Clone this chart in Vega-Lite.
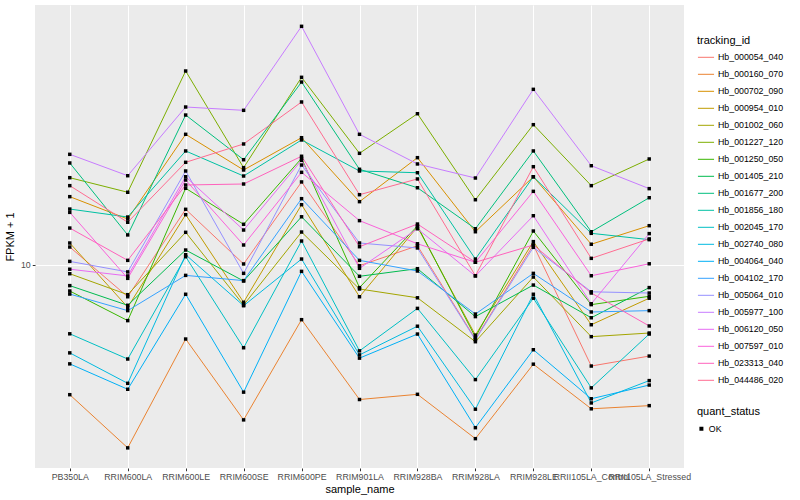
{
"$schema": "https://vega.github.io/schema/vega-lite/v6.json",
"width": 649,
"height": 463,
"autosize": {"type": "none"},
"padding": {"left": 35, "top": 5, "right": 116, "bottom": 32},
"background": "white",
"config": {
  "font": "Liberation Sans",
  "view": {"fill": "#EBEBEB", "stroke": null},
  "axis": {"labelFont": "Liberation Sans", "labelColor": "#4D4D4D", "labelFontSize": 8.8, "tickColor": "#333333", "tickSize": 2.75, "domain": false, "gridColor": "white", "gridWidth": 1, "titleFont": "Liberation Sans", "titleFontSize": 11, "titleFontWeight": "normal", "titleColor": "black"},
  "legend": {"labelFont": "Liberation Sans", "titleFont": "Liberation Sans", "labelFontSize": 8.8, "titleFontSize": 11, "titleFontWeight": "normal", "titleColor": "black", "labelColor": "black", "padding": 0, "rowPadding": 0, "labelOffset": 3}
},
"datasets": {
"fpkm": [
{"tracking_id":"Hb_000054_040","sample_name":"PB350LA","fpkm":11.09,"quant_status":"OK"},
{"tracking_id":"Hb_000054_040","sample_name":"RRIM600LA","fpkm":8.33,"quant_status":"OK"},
{"tracking_id":"Hb_000054_040","sample_name":"RRIM600LE","fpkm":13.78,"quant_status":"OK"},
{"tracking_id":"Hb_000054_040","sample_name":"RRIM600SE","fpkm":10.06,"quant_status":"OK"},
{"tracking_id":"Hb_000054_040","sample_name":"RRIM600PE","fpkm":16.13,"quant_status":"OK"},
{"tracking_id":"Hb_000054_040","sample_name":"RRIM901LA","fpkm":9.96,"quant_status":"OK"},
{"tracking_id":"Hb_000054_040","sample_name":"RRIM928BA","fpkm":11.17,"quant_status":"OK"},
{"tracking_id":"Hb_000054_040","sample_name":"RRIM928LA","fpkm":6.53,"quant_status":"OK"},
{"tracking_id":"Hb_000054_040","sample_name":"RRIM928LE","fpkm":11.22,"quant_status":"OK"},
{"tracking_id":"Hb_000054_040","sample_name":"RRII105LA_Control","fpkm":5.59,"quant_status":"OK"},
{"tracking_id":"Hb_000054_040","sample_name":"RRII105LA_Stressed","fpkm":5.92,"quant_status":"OK"},
{"tracking_id":"Hb_000160_070","sample_name":"PB350LA","fpkm":4.74,"quant_status":"OK"},
{"tracking_id":"Hb_000160_070","sample_name":"RRIM600LA","fpkm":3.49,"quant_status":"OK"},
{"tracking_id":"Hb_000160_070","sample_name":"RRIM600LE","fpkm":6.53,"quant_status":"OK"},
{"tracking_id":"Hb_000160_070","sample_name":"RRIM600SE","fpkm":4.10,"quant_status":"OK"},
{"tracking_id":"Hb_000160_070","sample_name":"RRIM600PE","fpkm":7.30,"quant_status":"OK"},
{"tracking_id":"Hb_000160_070","sample_name":"RRIM901LA","fpkm":4.61,"quant_status":"OK"},
{"tracking_id":"Hb_000160_070","sample_name":"RRIM928BA","fpkm":4.75,"quant_status":"OK"},
{"tracking_id":"Hb_000160_070","sample_name":"RRIM928LA","fpkm":3.68,"quant_status":"OK"},
{"tracking_id":"Hb_000160_070","sample_name":"RRIM928LE","fpkm":5.65,"quant_status":"OK"},
{"tracking_id":"Hb_000160_070","sample_name":"RRII105LA_Control","fpkm":4.37,"quant_status":"OK"},
{"tracking_id":"Hb_000160_070","sample_name":"RRII105LA_Stressed","fpkm":4.45,"quant_status":"OK"},
{"tracking_id":"Hb_000702_090","sample_name":"PB350LA","fpkm":14.82,"quant_status":"OK"},
{"tracking_id":"Hb_000702_090","sample_name":"RRIM600LA","fpkm":13.03,"quant_status":"OK"},
{"tracking_id":"Hb_000702_090","sample_name":"RRIM600LE","fpkm":21.22,"quant_status":"OK"},
{"tracking_id":"Hb_000702_090","sample_name":"RRIM600SE","fpkm":17.28,"quant_status":"OK"},
{"tracking_id":"Hb_000702_090","sample_name":"RRIM600PE","fpkm":20.81,"quant_status":"OK"},
{"tracking_id":"Hb_000702_090","sample_name":"RRIM901LA","fpkm":14.40,"quant_status":"OK"},
{"tracking_id":"Hb_000702_090","sample_name":"RRIM928BA","fpkm":18.55,"quant_status":"OK"},
{"tracking_id":"Hb_000702_090","sample_name":"RRIM928LA","fpkm":12.11,"quant_status":"OK"},
{"tracking_id":"Hb_000702_090","sample_name":"RRIM928LE","fpkm":16.62,"quant_status":"OK"},
{"tracking_id":"Hb_000702_090","sample_name":"RRII105LA_Control","fpkm":11.27,"quant_status":"OK"},
{"tracking_id":"Hb_000702_090","sample_name":"RRII105LA_Stressed","fpkm":12.54,"quant_status":"OK"},
{"tracking_id":"Hb_000954_010","sample_name":"PB350LA","fpkm":11.35,"quant_status":"OK"},
{"tracking_id":"Hb_000954_010","sample_name":"RRIM600LA","fpkm":7.84,"quant_status":"OK"},
{"tracking_id":"Hb_000954_010","sample_name":"RRIM600LE","fpkm":13.36,"quant_status":"OK"},
{"tracking_id":"Hb_000954_010","sample_name":"RRIM600SE","fpkm":8.07,"quant_status":"OK"},
{"tracking_id":"Hb_000954_010","sample_name":"RRIM600PE","fpkm":14.15,"quant_status":"OK"},
{"tracking_id":"Hb_000954_010","sample_name":"RRIM901LA","fpkm":8.33,"quant_status":"OK"},
{"tracking_id":"Hb_000954_010","sample_name":"RRIM928BA","fpkm":12.45,"quant_status":"OK"},
{"tracking_id":"Hb_000954_010","sample_name":"RRIM928LA","fpkm":6.68,"quant_status":"OK"},
{"tracking_id":"Hb_000954_010","sample_name":"RRIM928LE","fpkm":11.44,"quant_status":"OK"},
{"tracking_id":"Hb_000954_010","sample_name":"RRII105LA_Control","fpkm":7.09,"quant_status":"OK"},
{"tracking_id":"Hb_000954_010","sample_name":"RRII105LA_Stressed","fpkm":8.26,"quant_status":"OK"},
{"tracking_id":"Hb_001002_060","sample_name":"PB350LA","fpkm":9.51,"quant_status":"OK"},
{"tracking_id":"Hb_001002_060","sample_name":"RRIM600LA","fpkm":8.43,"quant_status":"OK"},
{"tracking_id":"Hb_001002_060","sample_name":"RRIM600LE","fpkm":12.07,"quant_status":"OK"},
{"tracking_id":"Hb_001002_060","sample_name":"RRIM600SE","fpkm":7.94,"quant_status":"OK"},
{"tracking_id":"Hb_001002_060","sample_name":"RRIM600PE","fpkm":12.09,"quant_status":"OK"},
{"tracking_id":"Hb_001002_060","sample_name":"RRIM901LA","fpkm":8.71,"quant_status":"OK"},
{"tracking_id":"Hb_001002_060","sample_name":"RRIM928BA","fpkm":8.28,"quant_status":"OK"},
{"tracking_id":"Hb_001002_060","sample_name":"RRIM928LA","fpkm":6.43,"quant_status":"OK"},
{"tracking_id":"Hb_001002_060","sample_name":"RRIM928LE","fpkm":9.33,"quant_status":"OK"},
{"tracking_id":"Hb_001002_060","sample_name":"RRII105LA_Control","fpkm":6.62,"quant_status":"OK"},
{"tracking_id":"Hb_001002_060","sample_name":"RRII105LA_Stressed","fpkm":6.76,"quant_status":"OK"},
{"tracking_id":"Hb_001227_120","sample_name":"PB350LA","fpkm":16.53,"quant_status":"OK"},
{"tracking_id":"Hb_001227_120","sample_name":"RRIM600LA","fpkm":15.20,"quant_status":"OK"},
{"tracking_id":"Hb_001227_120","sample_name":"RRIM600LE","fpkm":30.55,"quant_status":"OK"},
{"tracking_id":"Hb_001227_120","sample_name":"RRIM600SE","fpkm":17.51,"quant_status":"OK"},
{"tracking_id":"Hb_001227_120","sample_name":"RRIM600PE","fpkm":29.46,"quant_status":"OK"},
{"tracking_id":"Hb_001227_120","sample_name":"RRIM901LA","fpkm":19.02,"quant_status":"OK"},
{"tracking_id":"Hb_001227_120","sample_name":"RRIM928BA","fpkm":23.89,"quant_status":"OK"},
{"tracking_id":"Hb_001227_120","sample_name":"RRIM928LA","fpkm":14.56,"quant_status":"OK"},
{"tracking_id":"Hb_001227_120","sample_name":"RRIM928LE","fpkm":22.43,"quant_status":"OK"},
{"tracking_id":"Hb_001227_120","sample_name":"RRII105LA_Control","fpkm":15.79,"quant_status":"OK"},
{"tracking_id":"Hb_001227_120","sample_name":"RRII105LA_Stressed","fpkm":18.41,"quant_status":"OK"},
{"tracking_id":"Hb_001250_050","sample_name":"PB350LA","fpkm":8.61,"quant_status":"OK"},
{"tracking_id":"Hb_001250_050","sample_name":"RRIM600LA","fpkm":7.26,"quant_status":"OK"},
{"tracking_id":"Hb_001250_050","sample_name":"RRIM600LE","fpkm":15.55,"quant_status":"OK"},
{"tracking_id":"Hb_001250_050","sample_name":"RRIM600SE","fpkm":12.64,"quant_status":"OK"},
{"tracking_id":"Hb_001250_050","sample_name":"RRIM600PE","fpkm":18.48,"quant_status":"OK"},
{"tracking_id":"Hb_001250_050","sample_name":"RRIM901LA","fpkm":8.78,"quant_status":"OK"},
{"tracking_id":"Hb_001250_050","sample_name":"RRIM928BA","fpkm":12.52,"quant_status":"OK"},
{"tracking_id":"Hb_001250_050","sample_name":"RRIM928LA","fpkm":6.60,"quant_status":"OK"},
{"tracking_id":"Hb_001250_050","sample_name":"RRIM928LE","fpkm":12.16,"quant_status":"OK"},
{"tracking_id":"Hb_001250_050","sample_name":"RRII105LA_Control","fpkm":7.96,"quant_status":"OK"},
{"tracking_id":"Hb_001250_050","sample_name":"RRII105LA_Stressed","fpkm":8.35,"quant_status":"OK"},
{"tracking_id":"Hb_001405_210","sample_name":"PB350LA","fpkm":8.88,"quant_status":"OK"},
{"tracking_id":"Hb_001405_210","sample_name":"RRIM600LA","fpkm":7.93,"quant_status":"OK"},
{"tracking_id":"Hb_001405_210","sample_name":"RRIM600LE","fpkm":10.90,"quant_status":"OK"},
{"tracking_id":"Hb_001405_210","sample_name":"RRIM600SE","fpkm":9.12,"quant_status":"OK"},
{"tracking_id":"Hb_001405_210","sample_name":"RRIM600PE","fpkm":13.20,"quant_status":"OK"},
{"tracking_id":"Hb_001405_210","sample_name":"RRIM901LA","fpkm":9.37,"quant_status":"OK"},
{"tracking_id":"Hb_001405_210","sample_name":"RRIM928BA","fpkm":9.79,"quant_status":"OK"},
{"tracking_id":"Hb_001405_210","sample_name":"RRIM928LA","fpkm":7.43,"quant_status":"OK"},
{"tracking_id":"Hb_001405_210","sample_name":"RRIM928LE","fpkm":8.91,"quant_status":"OK"},
{"tracking_id":"Hb_001405_210","sample_name":"RRII105LA_Control","fpkm":7.38,"quant_status":"OK"},
{"tracking_id":"Hb_001405_210","sample_name":"RRII105LA_Stressed","fpkm":8.78,"quant_status":"OK"},
{"tracking_id":"Hb_001677_200","sample_name":"PB350LA","fpkm":17.99,"quant_status":"OK"},
{"tracking_id":"Hb_001677_200","sample_name":"RRIM600LA","fpkm":11.89,"quant_status":"OK"},
{"tracking_id":"Hb_001677_200","sample_name":"RRIM600LE","fpkm":23.71,"quant_status":"OK"},
{"tracking_id":"Hb_001677_200","sample_name":"RRIM600SE","fpkm":18.33,"quant_status":"OK"},
{"tracking_id":"Hb_001677_200","sample_name":"RRIM600PE","fpkm":28.67,"quant_status":"OK"},
{"tracking_id":"Hb_001677_200","sample_name":"RRIM901LA","fpkm":17.35,"quant_status":"OK"},
{"tracking_id":"Hb_001677_200","sample_name":"RRIM928BA","fpkm":15.60,"quant_status":"OK"},
{"tracking_id":"Hb_001677_200","sample_name":"RRIM928LA","fpkm":12.32,"quant_status":"OK"},
{"tracking_id":"Hb_001677_200","sample_name":"RRIM928LE","fpkm":19.28,"quant_status":"OK"},
{"tracking_id":"Hb_001677_200","sample_name":"RRII105LA_Control","fpkm":12.11,"quant_status":"OK"},
{"tracking_id":"Hb_001677_200","sample_name":"RRII105LA_Stressed","fpkm":14.73,"quant_status":"OK"},
{"tracking_id":"Hb_001856_180","sample_name":"PB350LA","fpkm":13.80,"quant_status":"OK"},
{"tracking_id":"Hb_001856_180","sample_name":"RRIM600LA","fpkm":13.18,"quant_status":"OK"},
{"tracking_id":"Hb_001856_180","sample_name":"RRIM600LE","fpkm":19.28,"quant_status":"OK"},
{"tracking_id":"Hb_001856_180","sample_name":"RRIM600SE","fpkm":16.69,"quant_status":"OK"},
{"tracking_id":"Hb_001856_180","sample_name":"RRIM600PE","fpkm":20.54,"quant_status":"OK"},
{"tracking_id":"Hb_001856_180","sample_name":"RRIM901LA","fpkm":17.18,"quant_status":"OK"},
{"tracking_id":"Hb_001856_180","sample_name":"RRIM928BA","fpkm":17.01,"quant_status":"OK"},
{"tracking_id":"Hb_001856_180","sample_name":"RRIM928LA","fpkm":10.35,"quant_status":"OK"},
{"tracking_id":"Hb_001856_180","sample_name":"RRIM928LE","fpkm":16.62,"quant_status":"OK"},
{"tracking_id":"Hb_001856_180","sample_name":"RRII105LA_Control","fpkm":12.00,"quant_status":"OK"},
{"tracking_id":"Hb_001856_180","sample_name":"RRII105LA_Stressed","fpkm":11.57,"quant_status":"OK"},
{"tracking_id":"Hb_002045_170","sample_name":"PB350LA","fpkm":6.73,"quant_status":"OK"},
{"tracking_id":"Hb_002045_170","sample_name":"RRIM600LA","fpkm":5.82,"quant_status":"OK"},
{"tracking_id":"Hb_002045_170","sample_name":"RRIM600LE","fpkm":10.49,"quant_status":"OK"},
{"tracking_id":"Hb_002045_170","sample_name":"RRIM600SE","fpkm":6.21,"quant_status":"OK"},
{"tracking_id":"Hb_002045_170","sample_name":"RRIM600PE","fpkm":11.48,"quant_status":"OK"},
{"tracking_id":"Hb_002045_170","sample_name":"RRIM901LA","fpkm":6.10,"quant_status":"OK"},
{"tracking_id":"Hb_002045_170","sample_name":"RRIM928BA","fpkm":7.79,"quant_status":"OK"},
{"tracking_id":"Hb_002045_170","sample_name":"RRIM928LA","fpkm":5.17,"quant_status":"OK"},
{"tracking_id":"Hb_002045_170","sample_name":"RRIM928LE","fpkm":8.26,"quant_status":"OK"},
{"tracking_id":"Hb_002045_170","sample_name":"RRII105LA_Control","fpkm":4.93,"quant_status":"OK"},
{"tracking_id":"Hb_002045_170","sample_name":"RRII105LA_Stressed","fpkm":6.72,"quant_status":"OK"},
{"tracking_id":"Hb_002740_080","sample_name":"PB350LA","fpkm":6.03,"quant_status":"OK"},
{"tracking_id":"Hb_002740_080","sample_name":"RRIM600LA","fpkm":5.06,"quant_status":"OK"},
{"tracking_id":"Hb_002740_080","sample_name":"RRIM600LE","fpkm":10.61,"quant_status":"OK"},
{"tracking_id":"Hb_002740_080","sample_name":"RRIM600SE","fpkm":7.91,"quant_status":"OK"},
{"tracking_id":"Hb_002740_080","sample_name":"RRIM600PE","fpkm":10.35,"quant_status":"OK"},
{"tracking_id":"Hb_002740_080","sample_name":"RRIM901LA","fpkm":5.96,"quant_status":"OK"},
{"tracking_id":"Hb_002740_080","sample_name":"RRIM928BA","fpkm":7.03,"quant_status":"OK"},
{"tracking_id":"Hb_002740_080","sample_name":"RRIM928LA","fpkm":4.36,"quant_status":"OK"},
{"tracking_id":"Hb_002740_080","sample_name":"RRIM928LE","fpkm":8.45,"quant_status":"OK"},
{"tracking_id":"Hb_002740_080","sample_name":"RRII105LA_Control","fpkm":4.52,"quant_status":"OK"},
{"tracking_id":"Hb_002740_080","sample_name":"RRII105LA_Stressed","fpkm":5.14,"quant_status":"OK"},
{"tracking_id":"Hb_004064_040","sample_name":"PB350LA","fpkm":5.66,"quant_status":"OK"},
{"tracking_id":"Hb_004064_040","sample_name":"RRIM600LA","fpkm":4.89,"quant_status":"OK"},
{"tracking_id":"Hb_004064_040","sample_name":"RRIM600LE","fpkm":8.45,"quant_status":"OK"},
{"tracking_id":"Hb_004064_040","sample_name":"RRIM600SE","fpkm":4.81,"quant_status":"OK"},
{"tracking_id":"Hb_004064_040","sample_name":"RRIM600PE","fpkm":9.64,"quant_status":"OK"},
{"tracking_id":"Hb_004064_040","sample_name":"RRIM901LA","fpkm":5.85,"quant_status":"OK"},
{"tracking_id":"Hb_004064_040","sample_name":"RRIM928BA","fpkm":6.72,"quant_status":"OK"},
{"tracking_id":"Hb_004064_040","sample_name":"RRIM928LA","fpkm":3.92,"quant_status":"OK"},
{"tracking_id":"Hb_004064_040","sample_name":"RRIM928LE","fpkm":6.14,"quant_status":"OK"},
{"tracking_id":"Hb_004064_040","sample_name":"RRII105LA_Control","fpkm":4.63,"quant_status":"OK"},
{"tracking_id":"Hb_004064_040","sample_name":"RRII105LA_Stressed","fpkm":5.01,"quant_status":"OK"},
{"tracking_id":"Hb_004102_170","sample_name":"PB350LA","fpkm":8.46,"quant_status":"OK"},
{"tracking_id":"Hb_004102_170","sample_name":"RRIM600LA","fpkm":7.69,"quant_status":"OK"},
{"tracking_id":"Hb_004102_170","sample_name":"RRIM600LE","fpkm":9.42,"quant_status":"OK"},
{"tracking_id":"Hb_004102_170","sample_name":"RRIM600SE","fpkm":9.14,"quant_status":"OK"},
{"tracking_id":"Hb_004102_170","sample_name":"RRIM600PE","fpkm":14.65,"quant_status":"OK"},
{"tracking_id":"Hb_004102_170","sample_name":"RRIM901LA","fpkm":10.27,"quant_status":"OK"},
{"tracking_id":"Hb_004102_170","sample_name":"RRIM928BA","fpkm":9.66,"quant_status":"OK"},
{"tracking_id":"Hb_004102_170","sample_name":"RRIM928LA","fpkm":7.54,"quant_status":"OK"},
{"tracking_id":"Hb_004102_170","sample_name":"RRIM928LE","fpkm":9.53,"quant_status":"OK"},
{"tracking_id":"Hb_004102_170","sample_name":"RRII105LA_Control","fpkm":7.63,"quant_status":"OK"},
{"tracking_id":"Hb_004102_170","sample_name":"RRII105LA_Stressed","fpkm":7.69,"quant_status":"OK"},
{"tracking_id":"Hb_005064_010","sample_name":"PB350LA","fpkm":10.21,"quant_status":"OK"},
{"tracking_id":"Hb_005064_010","sample_name":"RRIM600LA","fpkm":9.61,"quant_status":"OK"},
{"tracking_id":"Hb_005064_010","sample_name":"RRIM600LE","fpkm":17.18,"quant_status":"OK"},
{"tracking_id":"Hb_005064_010","sample_name":"RRIM600SE","fpkm":9.53,"quant_status":"OK"},
{"tracking_id":"Hb_005064_010","sample_name":"RRIM600PE","fpkm":17.78,"quant_status":"OK"},
{"tracking_id":"Hb_005064_010","sample_name":"RRIM901LA","fpkm":11.35,"quant_status":"OK"},
{"tracking_id":"Hb_005064_010","sample_name":"RRIM928BA","fpkm":11.03,"quant_status":"OK"},
{"tracking_id":"Hb_005064_010","sample_name":"RRIM928LA","fpkm":6.50,"quant_status":"OK"},
{"tracking_id":"Hb_005064_010","sample_name":"RRIM928LE","fpkm":11.07,"quant_status":"OK"},
{"tracking_id":"Hb_005064_010","sample_name":"RRII105LA_Control","fpkm":8.57,"quant_status":"OK"},
{"tracking_id":"Hb_005064_010","sample_name":"RRII105LA_Stressed","fpkm":8.51,"quant_status":"OK"},
{"tracking_id":"Hb_005977_100","sample_name":"PB350LA","fpkm":18.91,"quant_status":"OK"},
{"tracking_id":"Hb_005977_100","sample_name":"RRIM600LA","fpkm":16.72,"quant_status":"OK"},
{"tracking_id":"Hb_005977_100","sample_name":"RRIM600LE","fpkm":24.83,"quant_status":"OK"},
{"tracking_id":"Hb_005977_100","sample_name":"RRIM600SE","fpkm":24.36,"quant_status":"OK"},
{"tracking_id":"Hb_005977_100","sample_name":"RRIM600PE","fpkm":39.51,"quant_status":"OK"},
{"tracking_id":"Hb_005977_100","sample_name":"RRIM901LA","fpkm":21.22,"quant_status":"OK"},
{"tracking_id":"Hb_005977_100","sample_name":"RRIM928BA","fpkm":17.89,"quant_status":"OK"},
{"tracking_id":"Hb_005977_100","sample_name":"RRIM928LA","fpkm":16.50,"quant_status":"OK"},
{"tracking_id":"Hb_005977_100","sample_name":"RRIM928LE","fpkm":27.49,"quant_status":"OK"},
{"tracking_id":"Hb_005977_100","sample_name":"RRII105LA_Control","fpkm":17.71,"quant_status":"OK"},
{"tracking_id":"Hb_005977_100","sample_name":"RRII105LA_Stressed","fpkm":15.52,"quant_status":"OK"},
{"tracking_id":"Hb_006120_050","sample_name":"PB350LA","fpkm":9.76,"quant_status":"OK"},
{"tracking_id":"Hb_006120_050","sample_name":"RRIM600LA","fpkm":9.39,"quant_status":"OK"},
{"tracking_id":"Hb_006120_050","sample_name":"RRIM600LE","fpkm":16.62,"quant_status":"OK"},
{"tracking_id":"Hb_006120_050","sample_name":"RRIM600SE","fpkm":12.23,"quant_status":"OK"},
{"tracking_id":"Hb_006120_050","sample_name":"RRIM600PE","fpkm":18.27,"quant_status":"OK"},
{"tracking_id":"Hb_006120_050","sample_name":"RRIM901LA","fpkm":9.81,"quant_status":"OK"},
{"tracking_id":"Hb_006120_050","sample_name":"RRIM928BA","fpkm":12.32,"quant_status":"OK"},
{"tracking_id":"Hb_006120_050","sample_name":"RRIM928LA","fpkm":9.39,"quant_status":"OK"},
{"tracking_id":"Hb_006120_050","sample_name":"RRIM928LE","fpkm":13.28,"quant_status":"OK"},
{"tracking_id":"Hb_006120_050","sample_name":"RRII105LA_Control","fpkm":8.00,"quant_status":"OK"},
{"tracking_id":"Hb_006120_050","sample_name":"RRII105LA_Stressed","fpkm":11.98,"quant_status":"OK"},
{"tracking_id":"Hb_007597_010","sample_name":"PB350LA","fpkm":13.54,"quant_status":"OK"},
{"tracking_id":"Hb_007597_010","sample_name":"RRIM600LA","fpkm":9.26,"quant_status":"OK"},
{"tracking_id":"Hb_007597_010","sample_name":"RRIM600LE","fpkm":16.31,"quant_status":"OK"},
{"tracking_id":"Hb_007597_010","sample_name":"RRIM600SE","fpkm":11.22,"quant_status":"OK"},
{"tracking_id":"Hb_007597_010","sample_name":"RRIM600PE","fpkm":17.05,"quant_status":"OK"},
{"tracking_id":"Hb_007597_010","sample_name":"RRIM901LA","fpkm":12.91,"quant_status":"OK"},
{"tracking_id":"Hb_007597_010","sample_name":"RRIM928BA","fpkm":11.30,"quant_status":"OK"},
{"tracking_id":"Hb_007597_010","sample_name":"RRIM928LA","fpkm":10.16,"quant_status":"OK"},
{"tracking_id":"Hb_007597_010","sample_name":"RRIM928LE","fpkm":15.28,"quant_status":"OK"},
{"tracking_id":"Hb_007597_010","sample_name":"RRII105LA_Control","fpkm":9.40,"quant_status":"OK"},
{"tracking_id":"Hb_007597_010","sample_name":"RRII105LA_Stressed","fpkm":10.07,"quant_status":"OK"},
{"tracking_id":"Hb_023313_040","sample_name":"PB350LA","fpkm":12.37,"quant_status":"OK"},
{"tracking_id":"Hb_023313_040","sample_name":"RRIM600LA","fpkm":10.27,"quant_status":"OK"},
{"tracking_id":"Hb_023313_040","sample_name":"RRIM600LE","fpkm":15.85,"quant_status":"OK"},
{"tracking_id":"Hb_023313_040","sample_name":"RRIM600SE","fpkm":15.94,"quant_status":"OK"},
{"tracking_id":"Hb_023313_040","sample_name":"RRIM600PE","fpkm":18.70,"quant_status":"OK"},
{"tracking_id":"Hb_023313_040","sample_name":"RRIM901LA","fpkm":11.11,"quant_status":"OK"},
{"tracking_id":"Hb_023313_040","sample_name":"RRIM928BA","fpkm":12.66,"quant_status":"OK"},
{"tracking_id":"Hb_023313_040","sample_name":"RRIM928LA","fpkm":10.16,"quant_status":"OK"},
{"tracking_id":"Hb_023313_040","sample_name":"RRIM928LE","fpkm":11.22,"quant_status":"OK"},
{"tracking_id":"Hb_023313_040","sample_name":"RRII105LA_Control","fpkm":8.51,"quant_status":"OK"},
{"tracking_id":"Hb_023313_040","sample_name":"RRII105LA_Stressed","fpkm":7.04,"quant_status":"OK"},
{"tracking_id":"Hb_044486_020","sample_name":"PB350LA","fpkm":15.79,"quant_status":"OK"},
{"tracking_id":"Hb_044486_020","sample_name":"RRIM600LA","fpkm":12.79,"quant_status":"OK"},
{"tracking_id":"Hb_044486_020","sample_name":"RRIM600LE","fpkm":18.06,"quant_status":"OK"},
{"tracking_id":"Hb_044486_020","sample_name":"RRIM600SE","fpkm":20.07,"quant_status":"OK"},
{"tracking_id":"Hb_044486_020","sample_name":"RRIM600PE","fpkm":25.56,"quant_status":"OK"},
{"tracking_id":"Hb_044486_020","sample_name":"RRIM901LA","fpkm":14.99,"quant_status":"OK"},
{"tracking_id":"Hb_044486_020","sample_name":"RRIM928BA","fpkm":16.41,"quant_status":"OK"},
{"tracking_id":"Hb_044486_020","sample_name":"RRIM928LA","fpkm":9.40,"quant_status":"OK"},
{"tracking_id":"Hb_044486_020","sample_name":"RRIM928LE","fpkm":17.61,"quant_status":"OK"},
{"tracking_id":"Hb_044486_020","sample_name":"RRII105LA_Control","fpkm":10.39,"quant_status":"OK"},
{"tracking_id":"Hb_044486_020","sample_name":"RRII105LA_Stressed","fpkm":11.62,"quant_status":"OK"}
]
},
"data": {"name": "fpkm"},
"encoding": {
  "x": {"field": "sample_name", "type": "nominal",
    "sort": ["PB350LA","RRIM600LA","RRIM600LE","RRIM600SE","RRIM600PE","RRIM901LA","RRIM928BA","RRIM928LA","RRIM928LE","RRII105LA_Control","RRII105LA_Stressed"],
    "scale": {"type": "point", "padding": 0.6},
    "axis": {"title": "sample_name", "labelAngle": 0, "labelOverlap": false, "labelLimit": 0, "labelPadding": 2, "titlePadding": 2, "grid": true}},
  "y": {"field": "fpkm", "type": "quantitative",
    "scale": {"type": "log", "domain": [3.108, 44.67], "nice": false, "zero": false},
    "axis": {"title": "FPKM + 1", "values": [10], "format": "~g", "grid": true, "labelPadding": 2, "titlePadding": 5}}
},
"layer": [
  {"mark": {"type": "line", "strokeWidth": 1},
   "encoding": {"color": {"field": "tracking_id", "type": "nominal",
     "scale": {"domain": ["Hb_000054_040","Hb_000160_070","Hb_000702_090","Hb_000954_010","Hb_001002_060","Hb_001227_120","Hb_001250_050","Hb_001405_210","Hb_001677_200","Hb_001856_180","Hb_002045_170","Hb_002740_080","Hb_004064_040","Hb_004102_170","Hb_005064_010","Hb_005977_100","Hb_006120_050","Hb_007597_010","Hb_023313_040","Hb_044486_020"],
       "range": ["#F8766D","#EA8331","#D89000","#C09B00","#A3A500","#7CAE00","#39B600","#00BB4E","#00BF7D","#00C1A3","#00BFC4","#00BAE0","#00B0F6","#35A2FF","#9590FF","#C77CFF","#E76BF3","#FA62DB","#FF62BC","#FF6C91"]},
     "legend": {"title": "tracking_id", "orient": "none", "legendX": 662, "legendY": 30, "symbolType": "stroke", "symbolSize": 260, "symbolStrokeWidth": 1, "clipHeight": 16.6, "titlePadding": 3}}}},
  {"mark": {"type": "point", "filled": true, "color": "black", "size": 12, "opacity": 1},
   "encoding": {"shape": {"field": "quant_status", "type": "nominal", "scale": {"range": ["square"]},
     "legend": {"title": "quant_status", "orient": "none", "legendX": 662, "legendY": 401, "symbolSize": 16, "symbolFillColor": "black", "symbolStrokeColor": "black", "symbolOffset": 0, "clipHeight": 17.3, "titlePadding": 3}}}}
]
}
